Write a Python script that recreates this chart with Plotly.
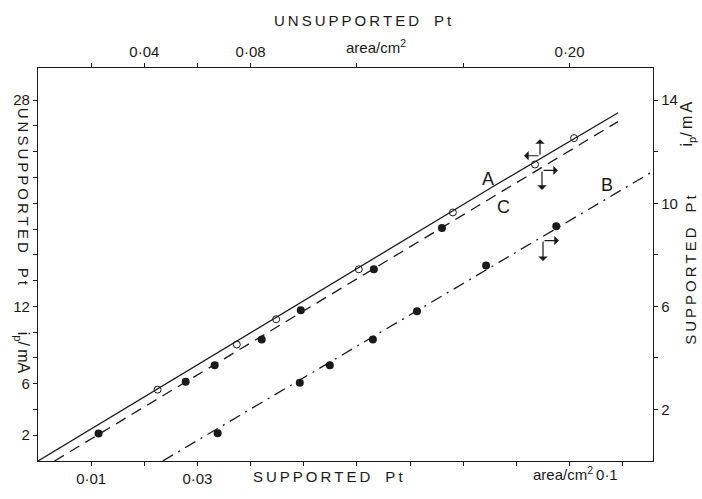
import plotly.graph_objects as go

# ---------------- data ----------------
# Unsupported Pt (top x-axis: area/cm^2, left y-axis: ip/mA) - open circles, line A
unsup_area = [0.0450, 0.0748, 0.0896, 0.1207, 0.1561, 0.1870, 0.2017]
unsup_ip = [5.54, 9.04, 11.0, 14.88, 19.29, 23.01, 25.06]
lineA_area = [0.0, 0.1700, 0.2183]
lineA_ip = [0.0, 21.15, 27.03]

# Supported Pt (bottom x-axis: area/cm^2, right y-axis: ip/mA) - filled circles
supC_area = [0.01139, 0.02778, 0.03324, 0.04209, 0.04944, 0.06318, 0.0760]
supC_ip = [1.063, 3.075, 3.72, 4.71, 5.85, 7.44, 9.04]
lineC_area = [0.0031, 0.1091]
lineC_ip = [0.0, 13.17]

supB_area = [0.0338, 0.04925, 0.0549, 0.0630, 0.0713, 0.0843, 0.0975]
supB_ip = [1.08, 3.04, 3.72, 4.71, 5.81, 7.59, 9.11]
lineB_area = [0.02345, 0.1157]
lineB_ip = [0.0, 11.24]

# tick values / labels
bottom_tickvals = [0.01, 0.03]
bottom_ticktext = ["0·01", "0·03"]
bottom_minor = [0.02, 0.04, 0.05, 0.06, 0.07, 0.08, 0.09, 0.10, 0.11]
top_tickvals = [0.04, 0.08, 0.20]
top_ticktext = ["0·04", "0·08", "0·20"]
top_minor = [0.02, 0.06, 0.12, 0.16]
left_tickvals = [2, 6, 12, 28]
left_ticktext = ["2", "6", "12", "28"]
left_minor = [4, 8, 10, 14, 16, 18, 20, 22, 24, 26]
right_tickvals = [2, 6, 10, 14]
right_ticktext = ["2", "6", "10", "14"]
right_minor = [4, 8, 12]

INK = "#1a1a1a"
FONT = "Liberation Sans, Arial, sans-serif"

fig = go.Figure()
# empty trace on the main (x, y) subplot so that the overlaid subplots render
fig.add_trace(go.Scatter(x=[], y=[], xaxis="x", yaxis="y", showlegend=False))

# line A (solid) + open circles
fig.add_trace(go.Scatter(x=lineA_area, y=lineA_ip, xaxis="x2", yaxis="y", mode="lines",
                         line=dict(color=INK, width=1.3), showlegend=False, hoverinfo="skip"))
fig.add_trace(go.Scatter(x=unsup_area, y=unsup_ip, xaxis="x2", yaxis="y", mode="markers",
                         marker=dict(symbol="circle-open", size=7, color=INK, line=dict(width=1)),
                         showlegend=False))
# line C (dashed) + filled circles
fig.add_trace(go.Scatter(x=lineC_area, y=lineC_ip, xaxis="x", yaxis="y2", mode="lines",
                         line=dict(color=INK, width=1.3, dash="11px,7px"), showlegend=False,
                         hoverinfo="skip"))
fig.add_trace(go.Scatter(x=supC_area, y=supC_ip, xaxis="x", yaxis="y2", mode="markers",
                         marker=dict(symbol="circle", size=8, color=INK), showlegend=False))
# line B (dash-dot) + filled circles
fig.add_trace(go.Scatter(x=lineB_area, y=lineB_ip, xaxis="x", yaxis="y2", mode="lines",
                         line=dict(color=INK, width=1.3, dash="12px,6px,2px,6px"), showlegend=False,
                         hoverinfo="skip"))
fig.add_trace(go.Scatter(x=supB_area, y=supB_ip, xaxis="x", yaxis="y2", mode="markers",
                         marker=dict(symbol="circle", size=8, color=INK), showlegend=False))


def axis(rng, vals, text, minor_vals, **kw):
    d = dict(range=rng, showgrid=False, zeroline=False, showline=True, linecolor=INK,
             linewidth=1.3, ticks="outside", ticklen=4, tickwidth=1.2, tickcolor=INK,
             tickmode="array", tickvals=vals, ticktext=text,
             minor=dict(tickmode="array", tickvals=minor_vals, ticks="outside", ticklen=4,
                        tickwidth=1.2, tickcolor=INK, showgrid=False),
             tickfont=dict(family=FONT, size=15, color=INK))
    d.update(kw)
    return d


fig.update_layout(
    width=702, height=499,
    margin=dict(l=38, r=49, t=68, b=28),
    paper_bgcolor="white", plot_bgcolor="white",
    xaxis=axis([0, 0.1157], bottom_tickvals, bottom_ticktext, bottom_minor, anchor="y"),
    xaxis2=axis([0, 0.2314], top_tickvals, top_ticktext, top_minor,
                overlaying="x", side="top", anchor="y"),
    yaxis=axis([0, 30.5], left_tickvals, left_ticktext, left_minor, anchor="x"),
    yaxis2=axis([0, 15.25], right_tickvals, right_ticktext, right_minor,
                overlaying="y", side="right", anchor="x"),
)


def px2paper(px, py):
    return (px - 38) / (653 - 38), (471 - py) / (471 - 68)


def spaced(word):
    return "\u2009".join(word)


annotations = []


def text(px, py, s, size=15, angle=0):
    x, y = px2paper(px, py)
    annotations.append(dict(x=x, y=y, xref="paper", yref="paper", text=s, showarrow=False,
                            textangle=angle, font=dict(family=FONT, size=size, color=INK),
                            xanchor="center", yanchor="middle"))


text(363, 19, spaced("UNSUPPORTED") + "\u2003" + spaced("Pt"), 15)
text(376, 46, "area/cm<sup>2</sup>", 15)
text(328, 487, spaced("SUPPORTED") + "\u2003" + spaced("Pt"), 15)
text(575, 484, "area/cm<sup>2</sup>\u20090·1", 15)
text(23, 200, spaced("UNSUPPORTED") + "\u2003" + spaced("Pt"), 15, 90)
text(22, 360, "i<sub>p</sub>/\u2009mA", 16, 90)
text(691, 275, spaced("SUPPORTED") + "\u2003" + spaced("Pt"), 15, -90)
text(688, 126, "i<sub>p</sub>/\u2009m\u2009A", 16, -90)
text(488, 182, "A", 18)
text(503, 211, "C", 18)
text(607, 188, "B", 18)


def arrow(tip, tail):
    x, y = px2paper(*tip)
    annotations.append(dict(x=x, y=y, xref="paper", yref="paper", ax=tail[0] - tip[0],
                            ay=tail[1] - tip[1], axref="pixel", ayref="pixel", text="",
                            showarrow=True, arrowhead=1, arrowsize=1.3, arrowwidth=1.2,
                            arrowcolor=INK))


arrow((540, 141), (540, 158))
arrow((524, 158), (540, 158))
arrow((558, 173), (542, 173))
arrow((542, 193), (542, 173))
arrow((559, 245), (543, 245))
arrow((543, 266), (543, 245))

fig.update_layout(annotations=annotations)
fig.write_html("out.html")
